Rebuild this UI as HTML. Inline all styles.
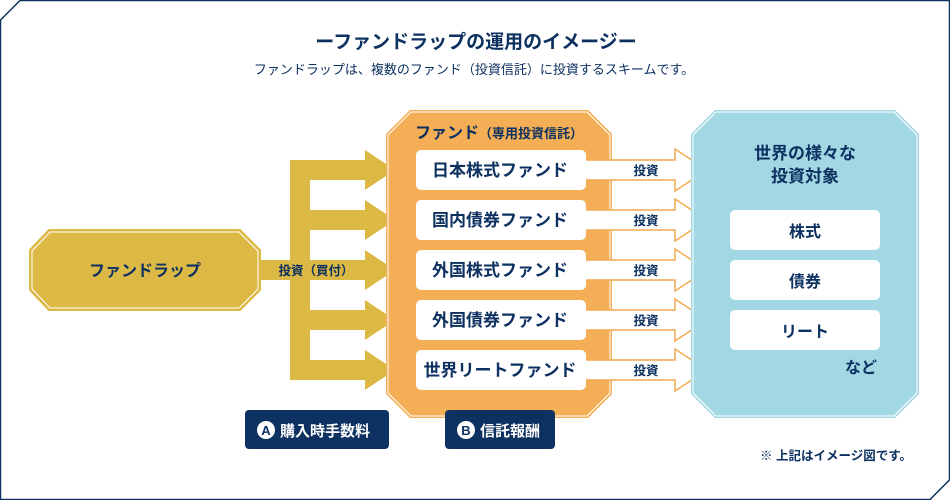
<!DOCTYPE html>
<html><head><meta charset="utf-8"><style>
html,body{margin:0;padding:0;background:#fff}
svg{display:block}
text{font-family:"Liberation Sans","Noto Sans CJK JP",sans-serif;font-weight:bold;fill:#0d3160}
</style></head><body>
<svg width="950" height="500" viewBox="0 0 950 500" xmlns="http://www.w3.org/2000/svg">
<polygon points="20,0.5 949.5,0.5 949.5,480 930,499.5 0.5,499.5 0.5,20" fill="#fff" stroke="#0d3160" stroke-width="1.5"/>
<text x="476" y="48" font-size="19" text-anchor="middle">ーファンドラップの運用のイメージー</text>
<text x="474" y="74" font-size="13" text-anchor="middle" style="font-weight:normal">ファンドラップは、複数のファンド（投資信託）に投資するスキームです。</text>

<polygon points="49,230 240,230 260,250 260,290 240,310 49,310 30,290 30,250" fill="#dcb944" stroke="#dcb944" stroke-width="2"/>
<polygon points="50,232 239,232 258,251 258,289 239,308 50,308 32,289 32,251" fill="none" stroke="#fff" stroke-width="1"/>
<text x="145" y="276" font-size="16" text-anchor="middle">ファンドラップ</text>

<g fill="#dcb944">
<rect x="260" y="260" width="50" height="20"/>
<rect x="290" y="160" width="20" height="220"/>
<polygon points="290,160 365,160 365,150 395,170 365,190 365,180 290,180"/>
<polygon points="290,210 365,210 365,200 395,220 365,240 365,230 290,230"/>
<polygon points="290,260 365,260 365,250 395,270 365,290 365,280 290,280"/>
<polygon points="290,310 365,310 365,300 395,320 365,340 365,330 290,330"/>
<polygon points="290,360 365,360 365,350 395,370 365,390 365,380 290,380"/>
</g>
<text x="316" y="275" font-size="12.5" text-anchor="middle">投資（買付）</text>

<polygon points="410,110 588,110 612,134 612,394 588,418 410,418 386,394 386,134" fill="#f4ae55"/>
<polygon points="411,112 587,112 610,135 610,393 587,416 411,416 388,393 388,135" fill="none" stroke="#fff" stroke-width="1"/>
<text x="415" y="138" font-size="16">ファンド<tspan font-size="13">（専用投資信託）</tspan></text>

<g fill="#fff" stroke="#f4a950" stroke-width="1.5">
<polygon points="580,160 675,160 675,149 707,170 675,191 675,180 580,180"/>
<polygon points="580,210 675,210 675,199 707,220 675,241 675,230 580,230"/>
<polygon points="580,260 675,260 675,249 707,270 675,291 675,280 580,280"/>
<polygon points="580,310 675,310 675,299 707,320 675,341 675,330 580,330"/>
<polygon points="580,360 675,360 675,349 707,370 675,391 675,380 580,380"/>
</g>

<polygon points="715,110 895,110 919,134 919,394 895,418 715,418 691,394 691,134" fill="#a2d8e4"/>
<polygon points="716,112 894,112 917,135 917,393 894,416 716,416 693,393 693,135" fill="none" stroke="#fff" stroke-width="1"/>

<g fill="#fff">
<rect x="416" y="150" width="170" height="40" rx="5"/>
<rect x="416" y="200" width="170" height="40" rx="5"/>
<rect x="416" y="250" width="170" height="40" rx="5"/>
<rect x="416" y="300" width="170" height="40" rx="5"/>
<rect x="416" y="350" width="170" height="40" rx="5"/>
<rect x="730" y="210" width="150" height="40" rx="5"/>
<rect x="730" y="260" width="150" height="40" rx="5"/>
<rect x="730" y="310" width="150" height="40" rx="5"/>
</g>
<g font-size="17" text-anchor="middle">
<text x="500" y="176">日本株式ファンド</text>
<text x="500" y="226">国内債券ファンド</text>
<text x="500" y="276">外国株式ファンド</text>
<text x="500" y="326">外国債券ファンド</text>
<text x="500" y="376">世界リートファンド</text>
<text x="805" y="159">世界の様々な</text>
<text x="805" y="182">投資対象</text>
</g>
<g font-size="16" text-anchor="middle">
<text x="805" y="237">株式</text>
<text x="805" y="287">債券</text>
<text x="805" y="337">リート</text>
<text x="861" y="373">など</text>
</g>
<g font-size="12.5" text-anchor="middle">
<text x="646" y="175">投資</text>
<text x="646" y="225">投資</text>
<text x="646" y="275">投資</text>
<text x="646" y="325">投資</text>
<text x="646" y="375">投資</text>
</g>

<rect x="245" y="410" width="144" height="39" rx="4" fill="#0d3160"/>
<circle cx="266" cy="430" r="9" fill="#fff"/>
<text x="266" y="435" font-size="13" text-anchor="middle">A</text>
<text x="280" y="436" font-size="15" style="fill:#fff">購入時手数料</text>
<rect x="445" y="410" width="110" height="39" rx="4" fill="#0d3160"/>
<circle cx="466" cy="430" r="9" fill="#fff"/>
<text x="466" y="435" font-size="13" text-anchor="middle">B</text>
<text x="480" y="436" font-size="15" style="fill:#fff">信託報酬</text>

<text x="912" y="460" font-size="12.5" text-anchor="end">※ 上記はイメージ図です。</text>
</svg>
</body></html>
